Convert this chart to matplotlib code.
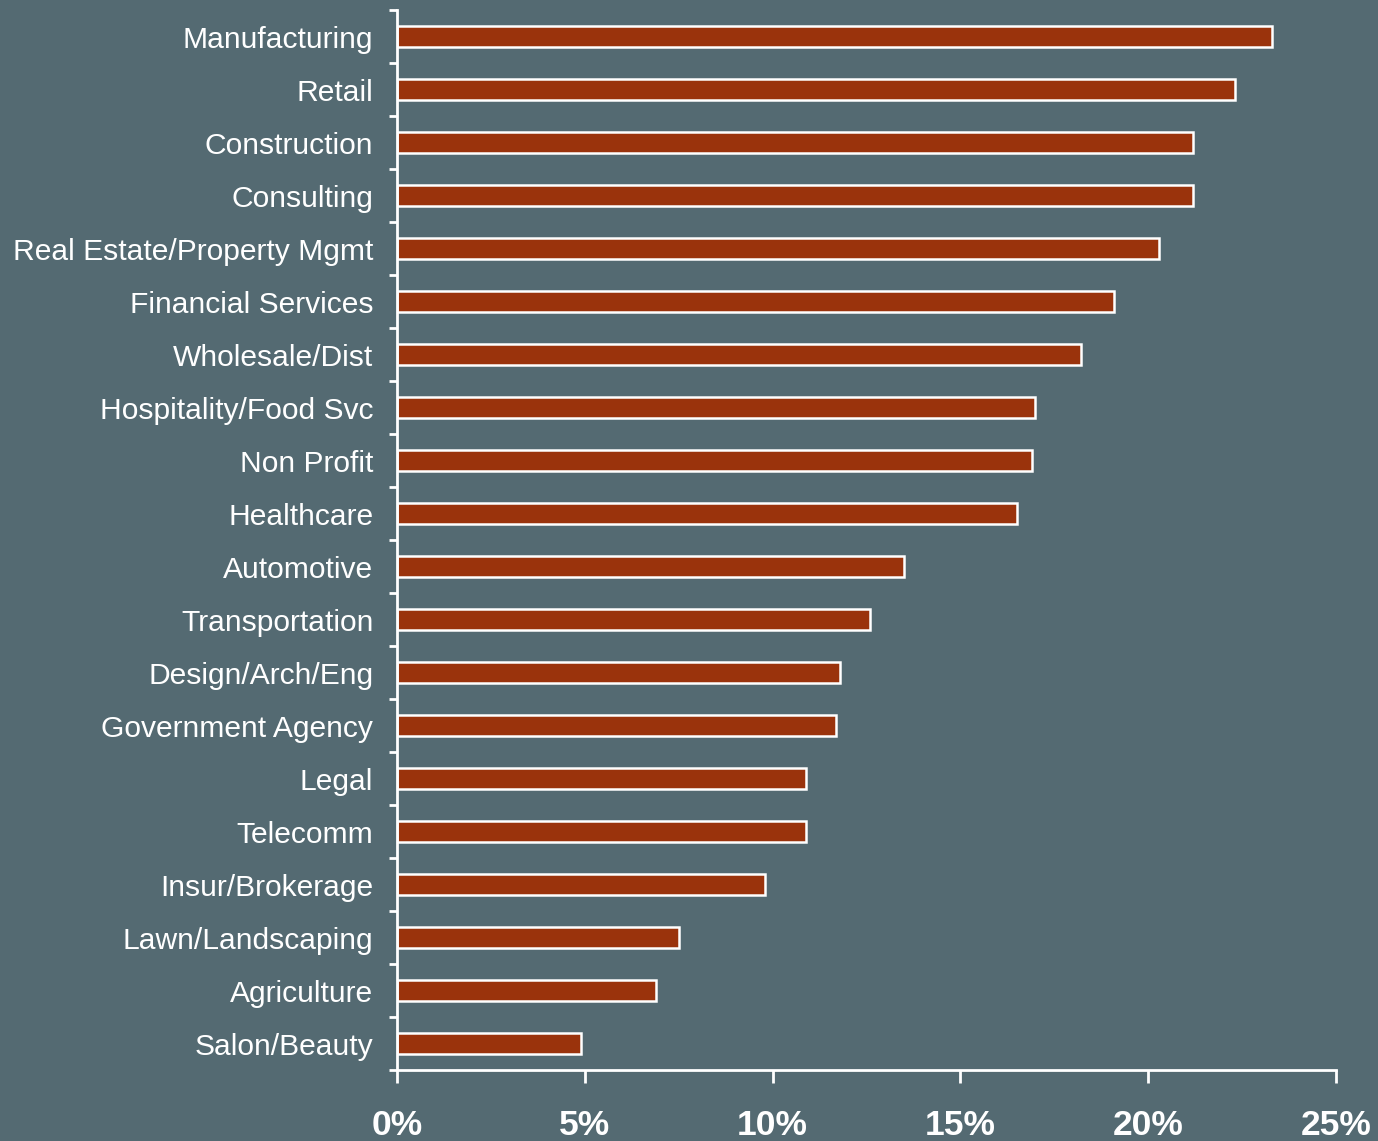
import numpy as np
import matplotlib
matplotlib.use('Agg')
import matplotlib.pyplot as plt
from matplotlib.ticker import FixedLocator, PercentFormatter

plt.rcParams['font.family'] = ['Liberation Sans', 'DejaVu Sans']

industries = ['Manufacturing', 'Retail', 'Construction', 'Consulting',
              'Real Estate/Property Mgmt', 'Financial Services', 'Wholesale/Dist',
              'Hospitality/Food Svc', 'Non Profit', 'Healthcare', 'Automotive',
              'Transportation', 'Design/Arch/Eng', 'Government Agency', 'Legal',
              'Telecomm', 'Insur/Brokerage', 'Lawn/Landscaping', 'Agriculture',
              'Salon/Beauty']
shares = [23.3, 22.3, 21.2, 21.2, 20.3, 19.1, 18.2, 17.0, 16.9, 16.5,
          13.5, 12.6, 11.8, 11.7, 10.9, 10.9, 9.8, 7.5, 6.9, 4.9]
xticks = [0, 5, 10, 15, 20, 25]

bg = '#546a72'
bar_col = '#9a330c'

fig = plt.figure(figsize=(13.78, 11.41), dpi=100, facecolor=bg)
ax = fig.add_axes([0.288, 0.0622, 0.6815, 0.929], facecolor=bg)

n = len(industries)
ypos = np.arange(n)[::-1]
ax.barh(ypos, shares, height=0.4, color=bar_col, edgecolor='white', linewidth=1.8)

ax.set_xlim(0, 25)
ax.set_ylim(-0.5, n - 0.5)
ax.set_xticks(xticks)
ax.xaxis.set_major_formatter(PercentFormatter(decimals=0))
ax.set_yticks(ypos)
ax.set_yticklabels(industries)
ax.yaxis.set_minor_locator(FixedLocator(np.arange(n + 1) - 0.5))

for s in ['top', 'right']:
    ax.spines[s].set_visible(False)
for s in ['left', 'bottom']:
    ax.spines[s].set_color('white')
    ax.spines[s].set_linewidth(2)

ax.tick_params(axis='y', which='major', length=0, pad=17, labelsize=21.6, labelcolor='white')
ax.tick_params(axis='y', which='minor', length=6, width=2, color='white')
ax.tick_params(axis='x', which='major', length=9, width=2, color='white', pad=19,
               labelsize=25.5, labelcolor='white')
for lab in ax.get_xticklabels():
    lab.set_fontweight('bold')

fig.savefig('out.png', dpi=100, facecolor=bg)
